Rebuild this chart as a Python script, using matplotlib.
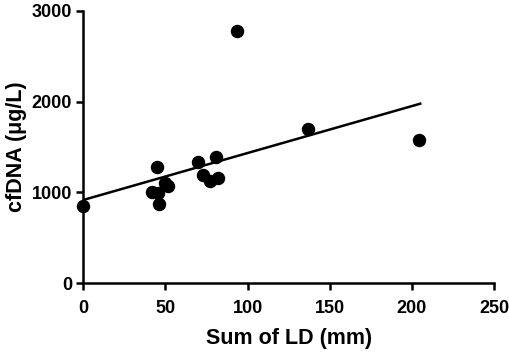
import matplotlib
matplotlib.use("Agg")
import matplotlib.pyplot as plt
import numpy as np

plt.rcParams['font.family'] = ['Liberation Sans', 'DejaVu Sans']

sum_ld = [0, 93.5, 137, 204.5, 45, 42, 45.5, 46, 50, 51.5, 70, 73, 77, 81, 82]
cfdna = [850, 2780, 1700, 1580, 1275, 1005, 990, 875, 1100, 1065, 1335, 1195, 1125, 1385, 1155]
fit_intercept = 915
fit_slope = 5.18
fit_x = [0, 205]
x_ticks = [0, 50, 100, 150, 200, 250]
y_ticks = [0, 1000, 2000, 3000]

fig = plt.figure(figsize=(5.1, 3.52), dpi=100)
ax = fig.add_axes([0.163, 0.196, 0.806, 0.773])

ax.scatter(sum_ld, cfdna, s=75, color='black', zorder=3, clip_on=False)
fx = np.array(fit_x)
ax.plot(fx, fit_intercept + fit_slope * fx, color='black', lw=1.8)

ax.set_xlim(0, 250)
ax.set_ylim(0, 3000)
ax.set_xticks(x_ticks)
ax.set_yticks(y_ticks)
for s in ['top', 'right']:
    ax.spines[s].set_visible(False)
for s in ['left', 'bottom']:
    ax.spines[s].set_linewidth(1.8)
ax.tick_params(width=1.8, length=5, labelsize=13, pad=3)
ax.tick_params(axis='x', pad=7)
for lab in ax.get_xticklabels() + ax.get_yticklabels():
    lab.set_fontweight('bold')
ax.set_xlabel('Sum of LD (mm)', fontsize=15.5, fontweight='bold', labelpad=8)
ax.set_ylabel('cfDNA (μg/L)', fontsize=15.5, fontweight='bold', labelpad=3)

fig.savefig('out.png', dpi=100)
